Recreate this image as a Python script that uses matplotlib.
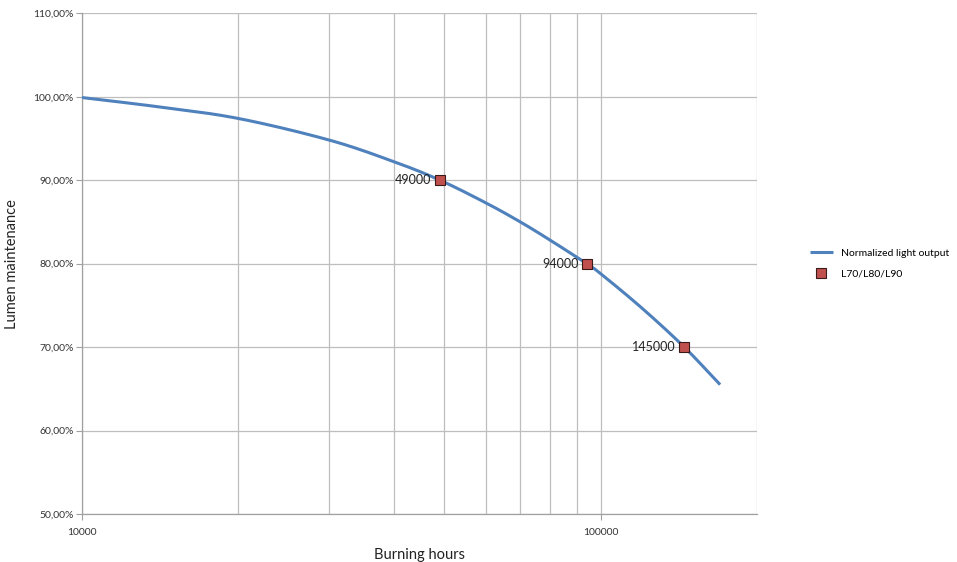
import numpy as np
import matplotlib
matplotlib.use("Agg")
import matplotlib.pyplot as plt
from matplotlib.ticker import FixedLocator, NullFormatter, FuncFormatter

plt.rcParams['font.family'] = ['Lato', 'DejaVu Sans']

# curve
hours = [10000, 14000, 20000, 30000, 40000, 49000, 60000, 70000, 80000,
         94000, 100000, 120000, 145000, 170000]
output = [99.9, 98.8, 97.4, 94.8, 92.2, 90.0, 87.3, 85.0, 82.8,
          80.0, 78.8, 74.7, 70.0, 65.5]

# L70/L80/L90 points
l_hours = [49000, 94000, 145000]
l_levels = [90.0, 80.0, 70.0]
l_labels = ["49000", "94000", "145000"]


def smooth_line(xs, ys, steps=20):
    # Catmull-Rom in log-x, like Excel's "smoothed line" option
    lx = np.log10(xs)
    ys = np.asarray(ys, float)
    px = np.concatenate([[2 * lx[0] - lx[1]], lx, [2 * lx[-1] - lx[-2]]])
    py = np.concatenate([[2 * ys[0] - ys[1]], ys, [2 * ys[-1] - ys[-2]]])
    out_x, out_y = [], []
    t = np.linspace(0, 1, steps, endpoint=False)
    for i in range(1, len(px) - 2):
        for p, out in ((px, out_x), (py, out_y)):
            p0, p1, p2, p3 = p[i - 1], p[i], p[i + 1], p[i + 2]
            out.extend(0.5 * (2 * p1 + (-p0 + p2) * t
                              + (2 * p0 - 5 * p1 + 4 * p2 - p3) * t ** 2
                              + (-p0 + 3 * p1 - 3 * p2 + p3) * t ** 3))
    out_x.append(lx[-1])
    out_y.append(ys[-1])
    return 10 ** np.array(out_x), np.array(out_y)


fig = plt.figure(figsize=(9.57, 5.62), dpi=100)
ax = fig.add_axes([0.0857, 0.0854, 0.705, 0.891])

sx, sy = smooth_line(hours, output)
ax.plot(sx, sy, color='#4F81BD', lw=2.2, label='Normalized light output',
        solid_capstyle='butt', zorder=3)
ax.plot(l_hours, l_levels, ls='none', marker='s', ms=7, mfc='#C0504D',
        mec='#3a1a18', mew=0.8, label='L70/L80/L90', zorder=4)
for xh, yl, t in zip(l_hours, l_levels, l_labels):
    ax.annotate(t, (xh, yl), xytext=(-6, 0), textcoords='offset points',
                ha='right', va='center', fontsize=9, color='#222222')

ax.set_xscale('log')
ax.set_xlim(10000, 200000)
ax.set_ylim(50, 110)
ax.set_yticks(np.arange(50, 111, 10))
ax.yaxis.set_major_formatter(FuncFormatter(lambda v, p: f"{v:.2f}".replace('.', ',') + "%"))
ax.xaxis.set_major_locator(FixedLocator([10000, 100000]))
ax.xaxis.set_minor_locator(FixedLocator([20000, 30000, 40000, 50000, 60000,
                                         70000, 80000, 90000, 200000]))
ax.xaxis.set_major_formatter(FuncFormatter(lambda v, p: f"{int(v)}"))
ax.xaxis.set_minor_formatter(NullFormatter())

ax.grid(True, which='both', axis='x', color='#BEBEBE', lw=0.9)
ax.grid(True, which='major', axis='y', color='#BEBEBE', lw=0.9)
ax.set_axisbelow(True)
for s in ax.spines.values():
    s.set_color('#A0A0A0')
    s.set_linewidth(0.9)
ax.spines['top'].set_visible(False)
ax.spines['right'].set_visible(False)

ax.tick_params(axis='y', which='major', length=4, color='#A0A0A0', labelsize=7.5,
               labelcolor='#333333', pad=2)
ax.tick_params(axis='x', which='major', length=4, color='#A0A0A0', labelsize=7.5,
               labelcolor='#333333', pad=6)
ax.tick_params(axis='x', which='minor', length=0)

ax.set_xlabel('Burning hours', fontsize=10.5, color='#222222', labelpad=8)
ax.set_ylabel('Lumen maintenance', fontsize=10.5, color='#222222', labelpad=10)

ax.legend(loc='center left', bbox_to_anchor=(1.068, 0.5), frameon=False,
          fontsize=7.5, handlelength=2.2, labelspacing=1.1, borderaxespad=0.3)

fig.savefig('out.png', dpi=100, facecolor='white')
